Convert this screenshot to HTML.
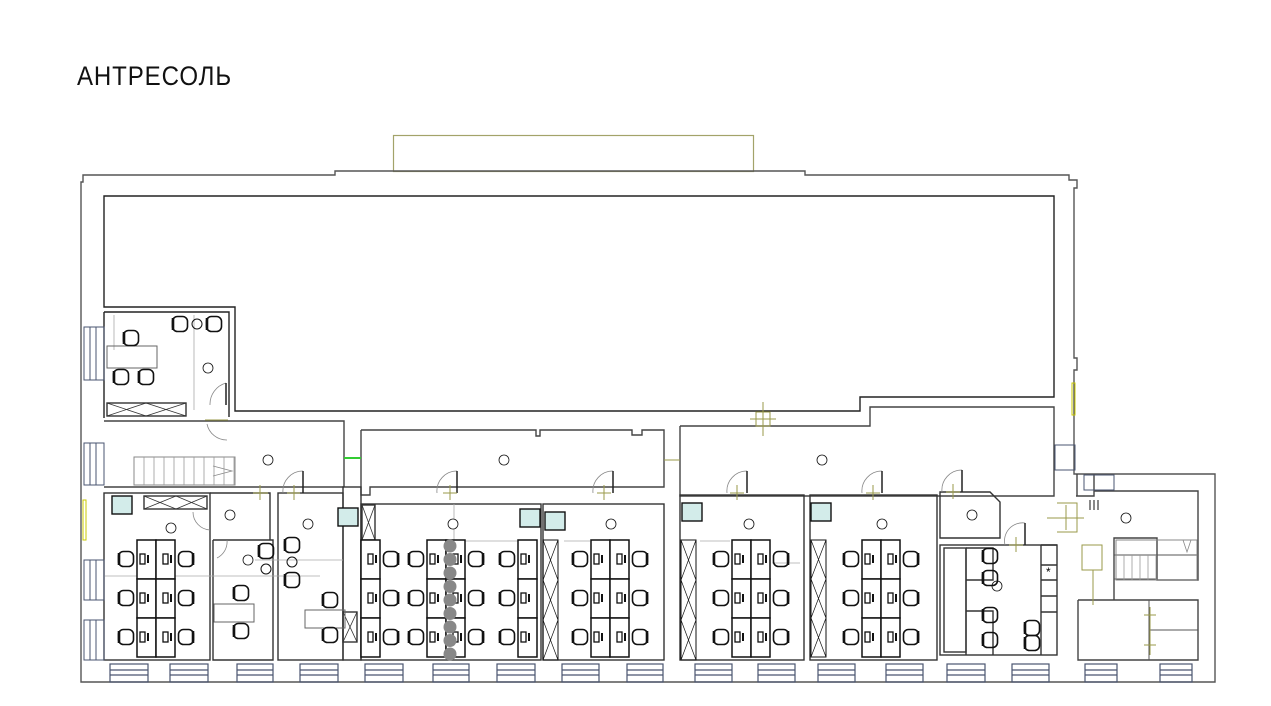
<!DOCTYPE html>
<html><head><meta charset="utf-8"><style>
html,body{margin:0;padding:0;background:#fff;width:1271px;height:706px;overflow:hidden}
svg{position:absolute;left:0;top:0}
.t{font-family:"Liberation Sans",sans-serif;font-size:27px;fill:#111;letter-spacing:1px}
</style></head><body>
<svg id="s" width="1271" height="706" viewBox="0 0 1271 706" xmlns="http://www.w3.org/2000/svg">
<text class="t" x="77" y="85" textLength="155" lengthAdjust="spacingAndGlyphs" style="font-weight:300">АНТРЕСОЛЬ</text>
<g fill="none" stroke="#333" stroke-width="1.4">
<rect x="393.5" y="135.5" width="360" height="36" stroke="#a3a36a" stroke-width="1.2"/>
<path d="M81 182 L83 182 L83 175 L335 175 L335 171 L805 171 L805 175 L1069 175 L1069 180 L1077 180 L1077 188 L1074 188 L1074 358 L1077 358 L1077 370 L1074 370 L1074 474 L1215 474 L1215 682 L81 682 Z" stroke="#555"/>
<path d="M104 196 L1054 196 L1054 397 L860 397 L860 411 L235 411 L235 307 L104 307 Z" stroke="#222"/>
<path d="M104 312 L229 312 L229 417 M104 418 L104 312" stroke="#222"/>
<path d="M104 421 L344 421 L344 487 M104 487 L344 487" stroke="#444"/>
<path d="M361 430 L536 430 L536 436 L540 436 L540 430 L632 430 L632 435 L642 435 L642 430 L664 430 L664 487 L370 487 L370 495 L361 495 L361 430" stroke="#444"/>
<path d="M680 426 L870 426 L870 407 L1054 407 L1054 496 L680 496 L680 426" stroke="#444"/>
<path d="M1077 496 L1077 474 M1094 474 L1094 491 M1076 496 L1094 496 L1094 491 L1198 491 L1198 580 L1157 580 L1157 538 L1114 538 L1114 600 M1078 600 L1198 600 L1198 660 L1078 660 L1078 600" stroke="#444"/>
<path d="M1114 555 L1198 555 M1114 579 L1157 579 M1149 600 L1149 660 M1149 630 L1198 630" stroke="#555" stroke-width="1"/>
<rect x="104" y="493" width="106" height="167"/>
<path d="M210 493 L270 493 L270 540 L213 540 M213 540 L213 660 L273 660 L273 540 L270 540"/>
<rect x="278" y="493" width="65" height="167"/>
<rect x="343" y="487" width="18" height="173"/>
<rect x="361" y="504" width="180" height="156"/>
<rect x="543" y="504" width="121" height="156"/>
<rect x="680" y="495" width="124" height="165"/>
<rect x="810" y="495" width="127" height="165"/>
<path d="M940 492 L990 492 L1000 502 L1000 538 L940 538 Z"/>
<rect x="940" y="545" width="117" height="110"/>
<rect x="944" y="548" width="22" height="104"/>
<path d="M966 548 L966 655 M966 548 L993 548 L993 580 L966 580 M966 611 L993 611 L993 655"/>
<path d="M1041 545 L1041 655 M1041 545 L1057 545 M1041 565 L1057 565 M1041 580 L1057 580 M1041 596 L1057 596 M1041 612 L1057 612"/>
<g stroke="#aaa" stroke-width="0.8"><path d="M114 315 L114 350 M194 315 L194 410 M104 576 L320 576 M255 560 L343 560 M454 504 L454 540 M455 541 L520 541 M564 541 L590 541 M700 541 L730 541 M772 563 L800 563"/></g>
<rect x="107" y="403" width="79" height="13"/><path d="M107 403 L146 416 M146 403 L107 416 M146 403 L186 416 M186 403 L146 416" stroke-width="0.8"/>
<rect x="144" y="496" width="63" height="13"/><path d="M144 496 L176 509 M176 496 L144 509 M176 496 L207 509 M207 496 L176 509" stroke-width="0.8"/>
<rect x="343" y="612" width="14" height="30"/><path d="M343 612 L357 642 M357 612 L343 642" stroke-width="0.8"/>
<rect x="362" y="505" width="13" height="35"/><path d="M362 505 L375 540 M375 505 L362 540" stroke-width="0.8"/>
<rect x="134" y="457" width="101" height="28" stroke="#888" stroke-width="1"/>
<rect x="1116" y="540" width="81" height="40" stroke="#888" stroke-width="1"/>
<g stroke="#888" stroke-width="0.8"><path d="M210 405 A22 22 0 0 1 226 383 M207 424 A20 20 0 0 0 227 440 M283 493 A20 20 0 0 1 303 471 M437 493 A20 20 0 0 1 457 471 M593 493 A20 20 0 0 1 613 471 M727 493 A20 20 0 0 1 747 471 M862 493 A20 20 0 0 1 882 471 M942 492 A20 20 0 0 1 962 470 M1005 545 A18 18 0 0 1 1025 523 M193 512 A18 18 0 0 0 210 530 M217 558 A18 18 0 0 0 227 540 M213 466 L232 471 L213 476 M1183 540 L1187 552 L1191 540"/></g>
<g stroke="#222" stroke-width="1.5"><path d="M226 383 L226 405 M303 471 L303 493 M457 471 L457 493 M613 471 L613 493 M747 471 L747 493 M882 471 L882 493 M962 470 L962 492 M1025 523 L1025 545"/></g>
<g stroke="#9a9a4a" stroke-width="1"><path d="M756 412 L770 412 L770 426 L756 426 Z M763 402 L763 436 M750 419 L776 419 M1057 503 L1077 503 L1077 532 L1057 532 M1047 518 L1084 518 M1066 505 L1066 530 M1082 545 L1102 545 L1102 570 L1082 570 Z M1093 570 L1093 605 M1144 615 L1156 615 M1144 645 L1156 645 M1150 607 L1150 655 M253 493 L268 493 M260 485 L260 500 M287 493 L300 493 M294 485 L294 500 M443 493 L457 493 M450 485 L450 500 M597 493 L611 493 M604 485 L604 500 M730 493 L744 493 M737 485 L737 500 M866 493 L880 493 M873 485 L873 500 M946 492 L960 492 M953 484 L953 499 M1009 545 L1023 545 M1016 537 L1016 552 M205 420 L228 420 M345 458 L361 458 M664 460 L680 460"/></g>
<rect x="1072" y="383" width="3" height="32" stroke="#c8c800" stroke-width="1"/>
<rect x="83" y="500" width="3" height="40" stroke="#c8c800" stroke-width="1"/>
<path d="M344 458 L361 458" stroke="#3c3" stroke-width="2"/>
</g>
<g id="dyn"></g>
</svg>
<script>
var s='',g=document.getElementById('dyn');
function win(x1,x2){s+='<rect x="'+x1+'" y="664" width="'+(x2-x1)+'" height="18" fill="none" stroke="#4a5570" stroke-width="1.2"/><path d="M'+x1+' 670 H'+x2+' M'+x1+' 675 H'+x2+'" stroke="#4a5570" stroke-width="1.2"/>';}
[[110,148],[170,208],[237,273],[300,338],[365,403],[433,469],[497,535],[562,599],[627,663],[695,732],[758,795],[818,855],[886,923],[947,985],[1012,1049],[1085,1117],[1160,1192]].forEach(function(a){win(a[0],a[1]);});
function vwin(y1,y2){s+='<rect x="84" y="'+y1+'" width="20" height="'+(y2-y1)+'" fill="none" stroke="#4a5570"/><path d="M90 '+y1+' V'+y2+' M96 '+y1+' V'+y2+'" stroke="#4a5570"/>';}
[[327,380],[443,485],[560,600],[620,660]].forEach(function(a){vwin(a[0],a[1]);});
s+='<rect x="1084" y="475" width="30" height="15" fill="none" stroke="#4a5570"/><rect x="1055" y="445" width="20" height="25" fill="none" stroke="#4a5570"/>';
// stair treads
for(var x=144;x<235;x+=10)s+='<line x1="'+x+'" y1="457" x2="'+x+'" y2="485" stroke="#999" stroke-width="0.8"/>';
for(var x=1124;x<1157;x+=8)s+='<line x1="'+x+'" y1="555" x2="'+x+'" y2="580" stroke="#999" stroke-width="0.8"/>';
function chair(x,y,flip){s+='<rect x="'+(x-7.5)+'" y="'+(y-7.5)+'" width="15" height="15" rx="5" fill="none" stroke="#111" stroke-width="1.6"/><line x1="'+(x+(flip?7:-7))+'" y1="'+(y-6)+'" x2="'+(x+(flip?7:-7))+'" y2="'+(y+6)+'" stroke="#111" stroke-width="2.6"/>';}
function mon(x,y){s+='<rect x="'+x+'" y="'+(y-5)+'" width="5" height="10" fill="none" stroke="#111" stroke-width="1.3"/><line x1="'+(x+8)+'" y1="'+(y-4)+'" x2="'+(x+8)+'" y2="'+(y+4)+'" stroke="#111" stroke-width="2"/>';}
function col(x,y,side){for(var i=0;i<3;i++){s+='<rect x="'+x+'" y="'+(y+39*i)+'" width="19" height="39" fill="#fff" stroke="#111" stroke-width="1.5"/>';var cy=y+39*i+19;if(side<0){chair(x-11,cy,false);mon(x+3,cy);}else{chair(x+30,cy,true);mon(x+7,cy);}}}
function cl(x,y){col(x,y,-1);col(x+19,y,1);}
cl(137,540);cl(591,540);cl(732,540);cl(862,540);cl(427,540);
col(361,540,1);col(518,540,-1);
for(var i=0;i<9;i++){s+='<circle cx="450" cy="'+(546+i*13.5)+'" r="6.5" fill="#888"/>';}
function lock(x,y,h){s+='<rect x="'+x+'" y="'+y+'" width="15" height="'+h+'" fill="none" stroke="#111"/>';var n=Math.round(h/39);for(var k=0;k<n;k++){var yy=y+k*h/n;s+='<path d="M'+x+' '+yy+' L'+(x+15)+' '+(yy+h/n)+' M'+(x+15)+' '+yy+' L'+x+' '+(yy+h/n)+'" stroke="#111" stroke-width="0.7"/>';}}
lock(543,540,120);lock(681,540,120);lock(811,540,117);
[[112,496],[338,508],[520,509],[545,512],[682,503],[811,503]].forEach(function(p){s+='<rect x="'+p[0]+'" y="'+p[1]+'" width="20" height="18" fill="#d3ecea" stroke="#111" stroke-width="1.4"/>';});
[[208,368],[268,460],[171,528],[230,515],[248,560],[308,524],[504,460],[453,524],[611,524],[822,460],[749,524],[882,524],[972,515],[997,586],[1126,518]].forEach(function(p){s+='<circle cx="'+p[0]+'" cy="'+p[1]+'" r="5" fill="#fff" stroke="#111" stroke-width="0.8"/>';});
s+='<rect x="107" y="346" width="50" height="22" fill="none" stroke="#666"/><rect x="214" y="604" width="40" height="18" fill="none" stroke="#666"/><rect x="305" y="610" width="40" height="18" fill="none" stroke="#666"/>';
[[131,338],[121,377],[146,377],[180,324],[214,324],[241,593],[241,631],[330,600],[330,635],[292,545],[292,580],[266,551],[990,556],[990,578],[990,615],[990,640],[1032,628],[1032,643]].forEach(function(p){chair(p[0],p[1],false);});
s+='<circle cx="197" cy="324" r="5" fill="none" stroke="#111"/><circle cx="292" cy="562" r="5" fill="none" stroke="#111"/><circle cx="266" cy="569" r="5" fill="none" stroke="#111"/>';
s+='<text x="1046" y="576" font-size="12" font-family="Liberation Sans,sans-serif">*</text><path d="M1090 500 V510 M1094 500 V510 M1098 500 V510" stroke="#111"/>';
g.innerHTML=s;
</script>
</body></html>
